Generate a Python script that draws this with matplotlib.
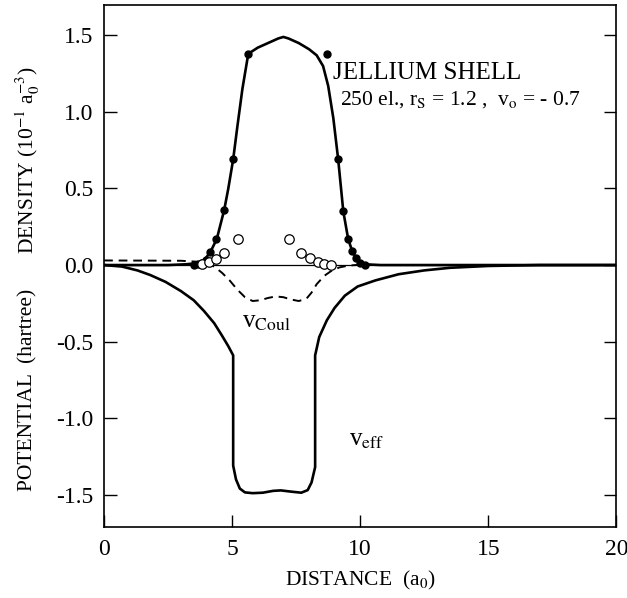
import matplotlib
matplotlib.use("Agg")
import matplotlib.pyplot as plt

plt.rcParams['font.family'] = ['Liberation Serif', 'DejaVu Serif']
plt.rcParams['mathtext.fontset'] = 'stix'

# density curve (10^-1 a0^-3)
dens_x = [0, 2.5, 3.2, 3.6, 3.9, 4.15, 4.4, 4.69, 4.85, 5.04, 5.2, 5.4, 5.63, 6.0, 6.4,
          6.8, 7.0, 7.2, 7.6, 8.0, 8.3, 8.55, 8.75, 8.95, 9.14, 9.34, 9.53, 9.69, 9.84,
          10.0, 10.3, 10.8, 20]
dens_y = [0, 0, 0.005, 0.012, 0.03, 0.085, 0.17, 0.36, 0.5, 0.69, 0.9, 1.15, 1.38, 1.42, 1.45,
          1.48, 1.49, 1.48, 1.45, 1.41, 1.37, 1.3, 1.17, 0.96, 0.69, 0.35, 0.17, 0.09,
          0.045, 0.015, 0.004, 0, 0]

# filled dots
dot_x = [3.5, 3.67, 3.83, 3.98, 4.14, 4.38, 4.69, 5.04, 5.63,
         8.71, 9.14, 9.34, 9.53, 9.69, 9.84, 10.0, 10.2]
dot_y = [0.0, 0.007, 0.015, 0.03, 0.085, 0.17, 0.36, 0.69, 1.38,
         1.38, 0.69, 0.35, 0.17, 0.09, 0.045, 0.015, 0.003]

# open circles
oc_x = [3.83, 4.1, 4.38, 4.69, 5.23, 7.23, 7.7, 8.05, 8.36, 8.6, 8.87]
oc_y = [0.007, 0.02, 0.04, 0.08, 0.17, 0.17, 0.08, 0.046, 0.02, 0.007, 0.0]

# effective potential (hartree)
veff_x = [0, 0.7, 1.3, 1.8, 2.4, 3.0, 3.5, 3.9, 4.3, 4.6, 4.85, 5.04, 5.04, 5.15, 5.3, 5.5,
          5.8, 6.2, 6.6, 6.9, 7.3, 7.7, 7.95, 8.1, 8.24, 8.24, 8.4, 8.7, 9.0, 9.4, 9.9,
          10.6, 11.5, 12.5, 13.5, 15, 17, 20]
veff_y = [0, -0.01, -0.035, -0.065, -0.11, -0.17, -0.23, -0.3, -0.38, -0.46, -0.53, -0.59,
          -1.31, -1.40, -1.46, -1.485, -1.49, -1.487, -1.475, -1.472, -1.48, -1.487, -1.47,
          -1.42, -1.32, -0.59, -0.47, -0.36, -0.28, -0.2, -0.14, -0.1, -0.06, -0.035,
          -0.018, -0.006, 0, 0]

# coulomb potential (hartree)
vc_x = [0, 3.0, 3.6, 4.0, 4.3, 4.6, 4.9, 5.2, 5.5, 5.8, 6.1, 6.4, 6.7, 7.0, 7.3, 7.6, 7.9,
        8.1, 8.3, 8.6, 8.9, 9.2, 9.5, 9.8, 10.2]
vc_y = [0.03, 0.028, 0.022, 0.012, -0.01, -0.05, -0.1, -0.16, -0.21, -0.235, -0.23, -0.215,
        -0.205, -0.21, -0.225, -0.235, -0.22, -0.18, -0.125, -0.07, -0.035, -0.015, -0.005, 0, 0]

yticks = [-1.5, -1.0, -0.5, 0.0, 0.5, 1.0, 1.5]
xticks = [0, 5, 10, 15, 20]

fig = plt.figure(figsize=(6.27, 5.98), dpi=100)
ax = fig.add_axes([0.166, 0.119, 0.817, 0.873])

ax.axhline(0, color='black', lw=0.9)
ax.plot(vc_x, vc_y, color='black', lw=1.4, ls=(0, (4.5, 3)))
ax.plot(veff_x, veff_y, color='black', lw=1.9)
ax.plot(dens_x, dens_y, color='black', lw=1.9)
ax.plot(dot_x, dot_y, 'o', color='black', ms=5, zorder=5)
ax.plot(oc_x, oc_y, 'o', mfc='white', mec='black', mew=0.9, ms=6.8, zorder=6)

ax.set_xlim(0, 20)
ax.set_ylim(-1.71, 1.70)
ax.set_xticks(xticks)
ax.set_yticks(yticks)
ax.set_xticklabels([str(t) for t in xticks])
ax.set_yticklabels(['%.1f' % t for t in yticks])
ax.tick_params(direction='in', length=9, width=1.0, labelsize=17, right=True, top=False)
ax.tick_params(axis='x', pad=9)
ax.tick_params(axis='y', pad=8)
for s in ax.spines.values():
    s.set_linewidth(1.2)

ax.text(8.95, 1.255, 'JELLIUM SHELL', fontsize=18, va='center')
ax.text(9.2, 1.08, r'250 el., r$_{\rm S}$ = 1.2 ,  v$_{\rm o}$ = - 0.7', fontsize=15.5, va='center')
ax.text(5.4, -0.37, r'v$_{\rm Coul}$', fontsize=18, va='center')
ax.text(9.55, -1.14, r'v$_{\rm eff}$', fontsize=18, va='center')

ax.set_xlabel(r'DISTANCE  (a$_0$)', fontsize=15.5, labelpad=6)
fig.text(0.045, 1 - 390 / 598, 'POTENTIAL  (hartree)', rotation=90, fontsize=15.5, ha='center', va='center')
fig.text(0.045, 1 - 160 / 598, r'DENSITY (10$^{-1}$ a$_0^{-3}$)', rotation=90, fontsize=15.5, ha='center', va='center')

plt.savefig('out.png', dpi=100)
